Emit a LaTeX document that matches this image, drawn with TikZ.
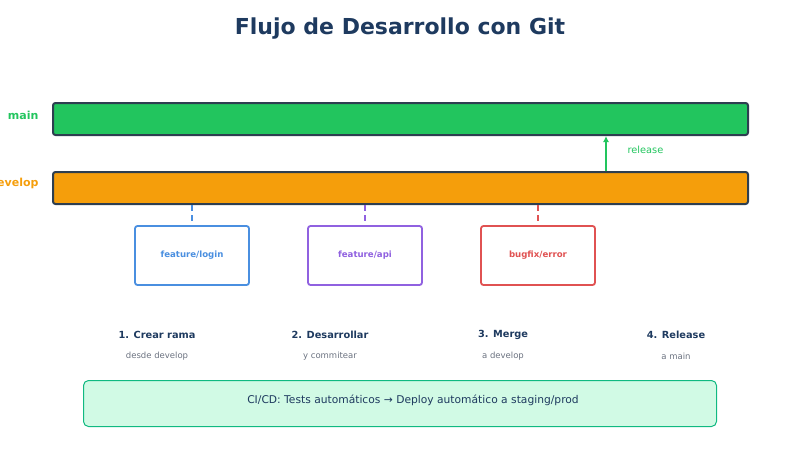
\documentclass[tikz,border=0pt]{standalone}
\usepackage{fontspec}
\usetikzlibrary{arrows.meta}
\setmainfont{DejaVu Sans}
\definecolor{navy}{HTML}{1E3A5F}
\definecolor{gmain}{HTML}{22C55E}
\definecolor{odev}{HTML}{F59E0B}
\definecolor{bar}{HTML}{2D3E50}
\definecolor{cblue}{HTML}{4A8FE0}
\definecolor{cpurp}{HTML}{9061E0}
\definecolor{cred}{HTML}{E05252}
\definecolor{cgray}{HTML}{6B7280}
\definecolor{cifill}{HTML}{D1FAE5}
\definecolor{ciline}{HTML}{10B981}
\tikzset{
 branchbar/.style={draw=bar,line width=2pt,rounded corners=2.5pt},
 featbox/.style={draw=#1,line width=1.8pt,rounded corners=2.5pt,fill=white,minimum width=114pt,minimum height=59pt,text=#1,font=\bfseries\fontsize{8.6}{10}\selectfont},
 link/.style={draw=#1,line width=1.8pt,dash pattern=on 6pt off 4pt},
 steptitle/.style={text=navy,font=\bfseries\fontsize{9.8}{12}\selectfont},
 stepsub/.style={text=cgray,font=\fontsize{8.5}{10}\selectfont},
}
\begin{document}
\begin{tikzpicture}[x=1pt,y=-1pt]
\useasboundingbox (0,0) rectangle (800,450);
\clip (0,0) rectangle (800,450);
\node[text=navy,font=\bfseries\fontsize{22}{26}\selectfont] (title) at (400,29) {Flujo de Desarrollo con Git};
\node[branchbar,fill=gmain,minimum width=695pt,minimum height=32pt,anchor=north west] (main) at (52,102) {};
\node[branchbar,fill=odev,minimum width=695pt,minimum height=32pt,anchor=north west] (dev) at (52,171) {};
\node[anchor=east,text=gmain,font=\bfseries\fontsize{11}{13}\selectfont] (lmain) at (42,115) {main};
\node[anchor=east,text=odev,font=\bfseries\fontsize{11}{13}\selectfont] (ldev) at (42,183) {develop};
\node[featbox=cblue] (f1) at (192,255.5) {feature/login};
\node[featbox=cpurp] (f2) at (365,255.5) {feature/api};
\node[featbox=cred] (f3) at (538,255.5) {bugfix/error};
\draw[link=cblue] (dev.south -| f1) -- (f1.north);
\draw[link=cpurp] (dev.south -| f2) -- (f2.north);
\draw[link=cred] (dev.south -| f3) -- (f3.north);
\coordinate (rel) at (606,171);
\draw[gmain,line width=1.8pt,-{Latex[length=6pt,width=6pt]}] (rel) -- (rel |- main.south);
\node[anchor=west,text=gmain,font=\fontsize{9.8}{12}\selectfont] (lrel) at (624,150) {release};
\node[steptitle] (s1) at (157,335) {1. Crear rama};
\node[stepsub] (u1) at (157,356) {desde develop};
\node[steptitle] (s2) at (330,335) {2. Desarrollar};
\node[stepsub] (u2) at (330,356) {y commitear};
\node[steptitle] (s3) at (503,335) {3. Merge};
\node[stepsub] (u3) at (503,356) {a develop};
\node[steptitle] (s4) at (676,335) {4. Release};
\node[stepsub] (u4) at (676,356) {a main};
\node[draw=ciline,fill=cifill,line width=1pt,rounded corners=5pt,minimum width=633pt,minimum height=46pt,anchor=north west] (ci) at (83,380) {};
\node[text=navy,font=\fontsize{10.7}{13}\selectfont] (cit) at (413,400) {CI/CD: Tests automáticos → Deploy automático a staging/prod};
\end{tikzpicture}
\end{document}
